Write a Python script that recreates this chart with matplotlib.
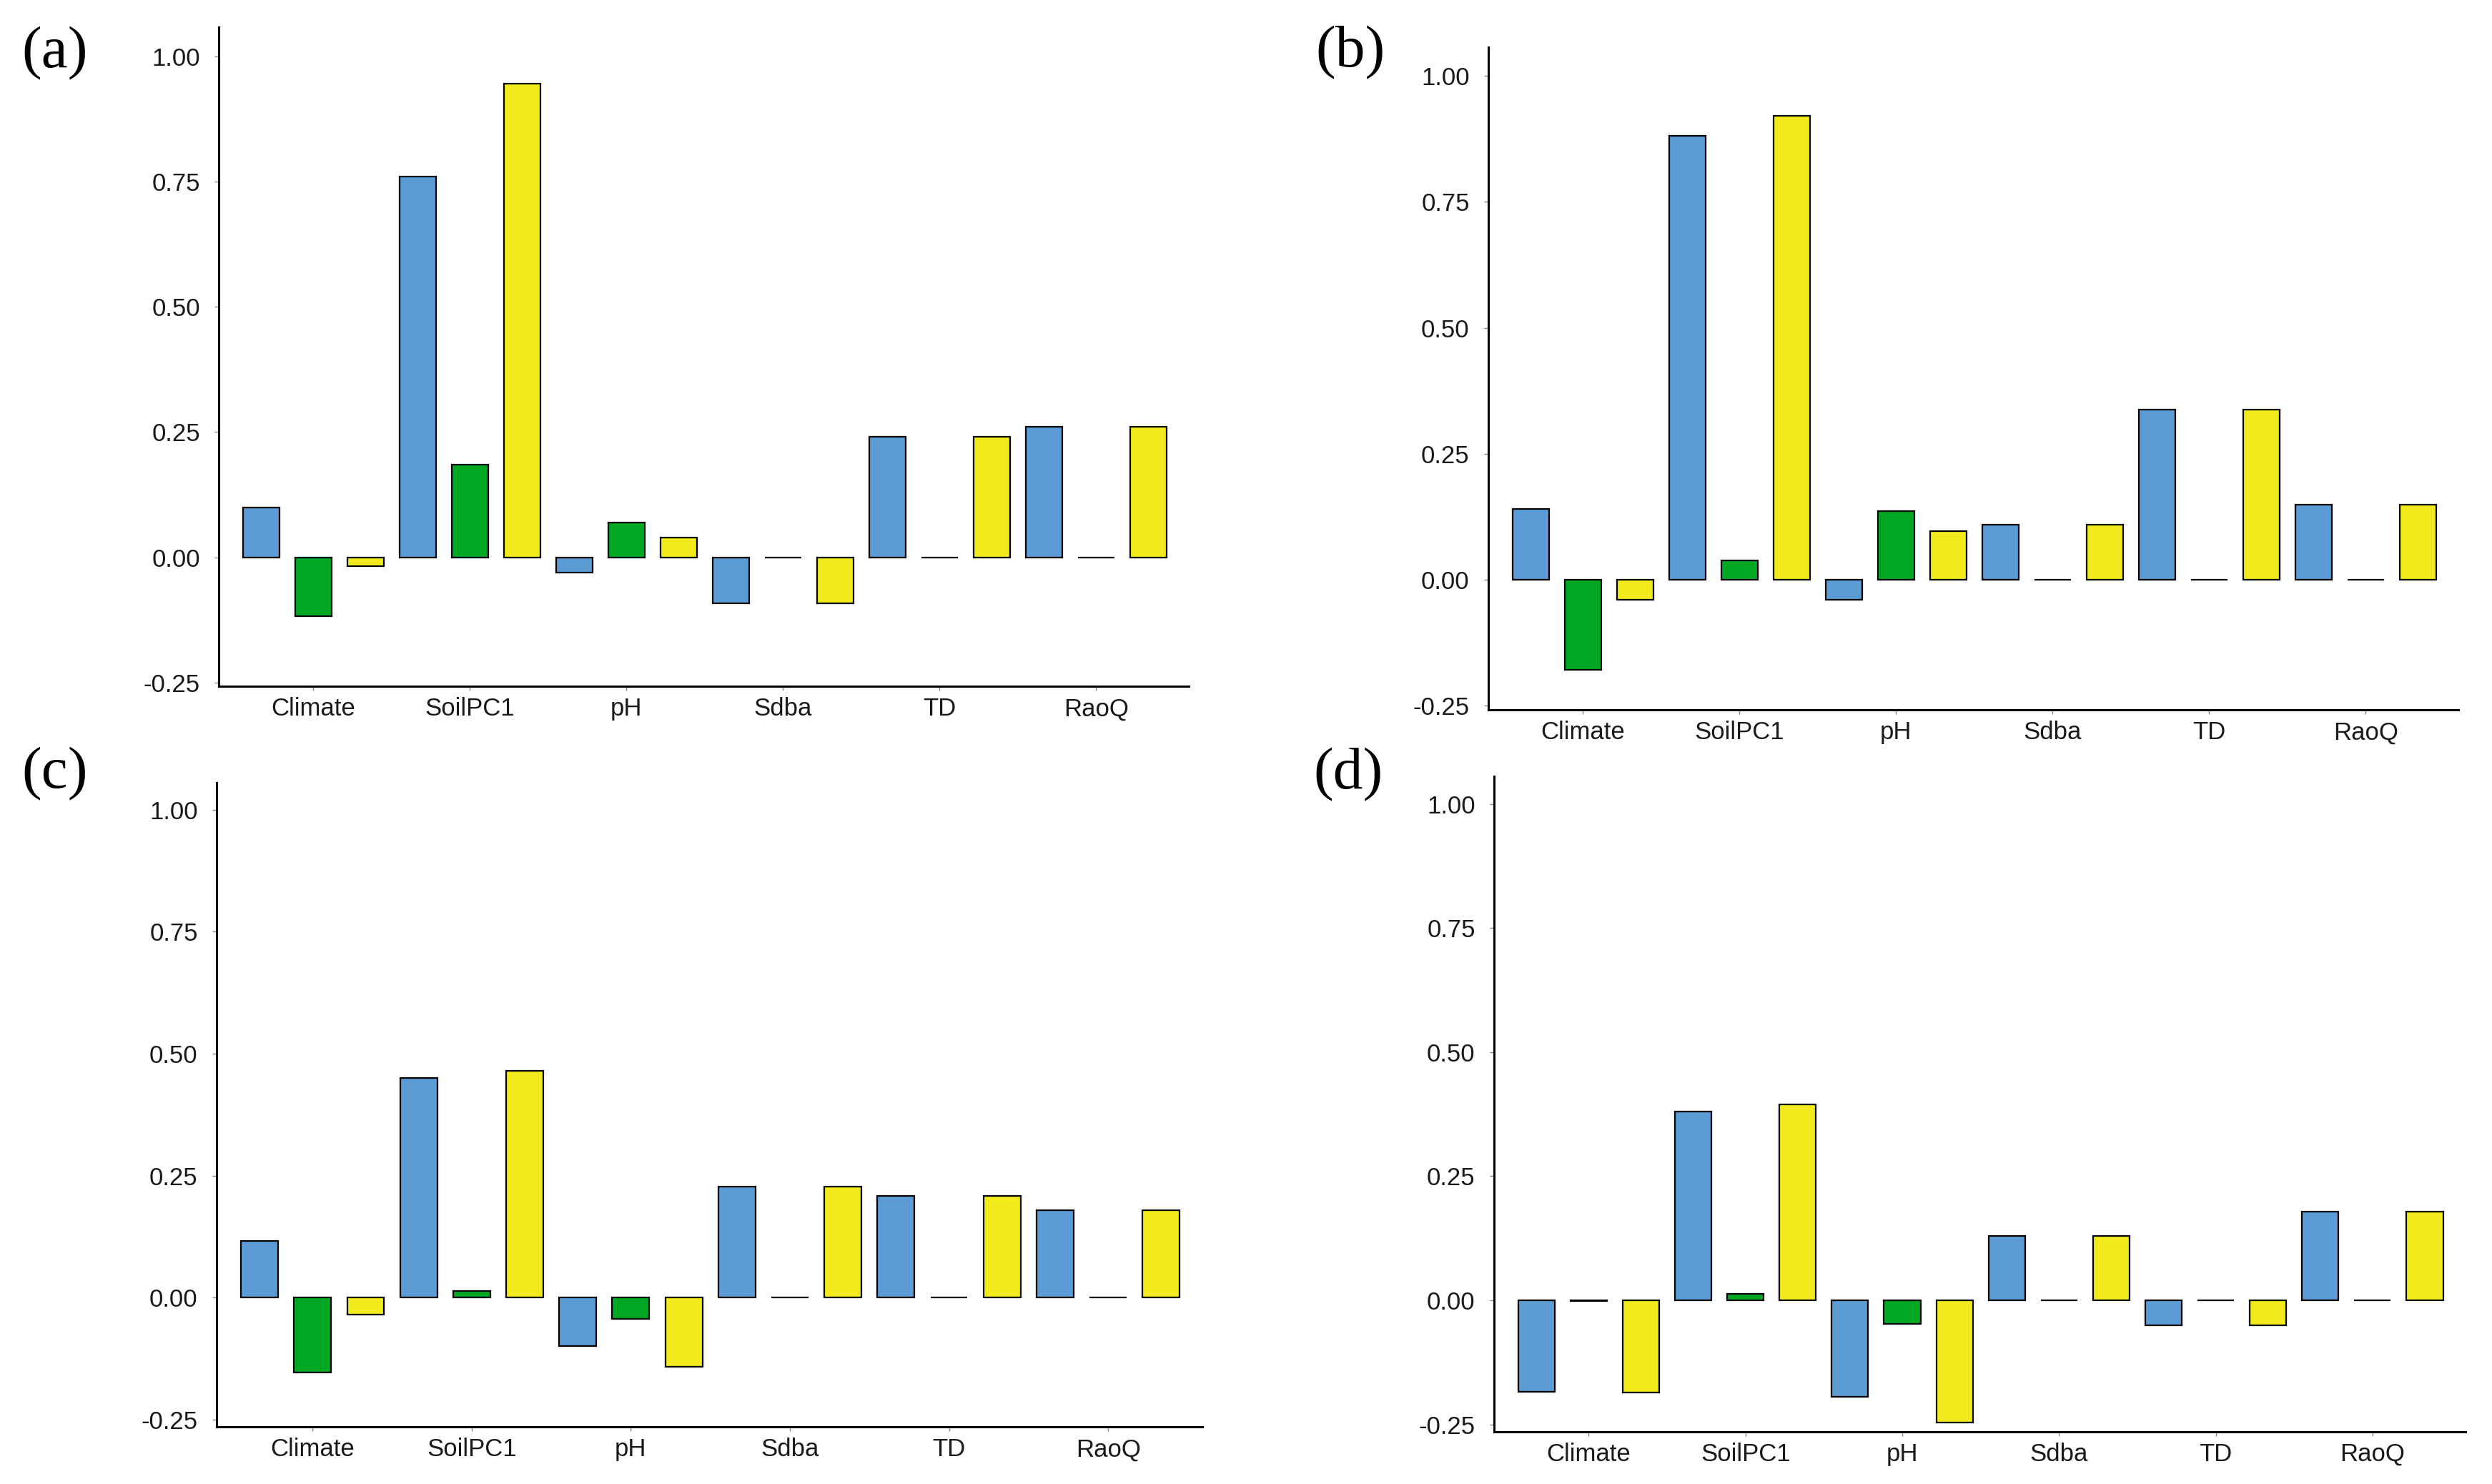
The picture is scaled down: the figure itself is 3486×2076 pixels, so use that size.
import matplotlib
matplotlib.use("Agg")
import matplotlib.pyplot as plt
import numpy as np

categories = ["Climate", "SoilPC1", "pH", "Sdba", "TD", "RaoQ"]
series_colors = ["#5B9BD5", "#00A824", "#F2EA1A"]

# values per panel: for each category (blue, green, yellow)
vals_a = [0.100, -0.118, -0.018,
          0.760, 0.185, 0.945,
          -0.030, 0.069, 0.040,
          -0.091, 0.000, -0.091,
          0.241, 0.000, 0.241,
          0.260, 0.000, 0.260]
vals_b = [0.140, -0.179, -0.040,
          0.881, 0.039, 0.921,
          -0.039, 0.137, 0.097,
          0.110, 0.000, 0.110,
          0.338, 0.000, 0.338,
          0.149, 0.000, 0.149]
vals_c = [0.116, -0.153, -0.035,
          0.450, 0.014, 0.465,
          -0.099, -0.044, -0.142,
          0.228, 0.000, 0.228,
          0.208, 0.000, 0.208,
          0.179, 0.000, 0.179]
vals_d = [-0.184, -0.002, -0.186,
          0.380, 0.013, 0.394,
          -0.195, -0.048, -0.247,
          0.129, 0.000, 0.129,
          -0.050, 0.000, -0.050,
          0.179, 0.000, 0.179]

ytick_vals = [-0.25, 0.00, 0.25, 0.50, 0.75, 1.00]
ytick_labels = ["-0.25", "0.00", "0.25", "0.50", "0.75", "1.00"]
panel_labels = ["(a)", "(b)", "(c)", "(d)"]

fig = plt.figure(figsize=(34.87, 20.76), dpi=100)

axes_rects = [
    [0.0878, 0.5376, 0.3892, 0.4441],
    [0.5971, 0.5217, 0.3892, 0.4465],
    [0.0869, 0.0385, 0.3955, 0.4340],
    [0.5994, 0.0352, 0.3897, 0.4417],
]
ylims = [(-0.257, 1.058), (-0.258, 1.057), (-0.265, 1.055), (-0.265, 1.056)]
label_pos = [(30, 75), (1840, 74), (30, 1083), (1837, 1084)]
all_vals = [vals_a, vals_b, vals_c, vals_d]

tick_font = "Liberation Sans"
for i in range(4):
    ax = fig.add_axes(axes_rects[i])
    v = all_vals[i]
    x = np.arange(len(v))
    colors = [series_colors[k % 3] for k in range(len(v))]
    ax.bar(x, v, width=0.70, color=colors, edgecolor="black", linewidth=1.6, zorder=3)
    ax.set_xlim(-0.81, 17.78)
    ax.set_ylim(*ylims[i])
    ax.set_yticks(ytick_vals)
    ax.set_yticklabels(ytick_labels)
    ax.set_xticks([1 + 3 * k for k in range(len(categories))])
    ax.set_xticklabels(categories)
    for s in ["top", "right"]:
        ax.spines[s].set_visible(False)
    for s in ["left", "bottom"]:
        ax.spines[s].set_linewidth(2.2)
        ax.spines[s].set_color("black")
    ax.tick_params(axis="both", length=4, width=1.0, color="#888888",
                   labelsize=25, labelcolor="#1a1a1a")
    ax.tick_params(axis="y", pad=15)
    ax.tick_params(axis="x", pad=7)
    for lab in ax.get_xticklabels() + ax.get_yticklabels():
        lab.set_fontfamily(tick_font)
    px, py = label_pos[i]
    fig.text(px / 3487, 1 - py / 2076, panel_labels[i], fontsize=60,
             family="Liberation Serif", ha="left", va="center", color="black")

fig.savefig("out.png", dpi=100, facecolor="white")
